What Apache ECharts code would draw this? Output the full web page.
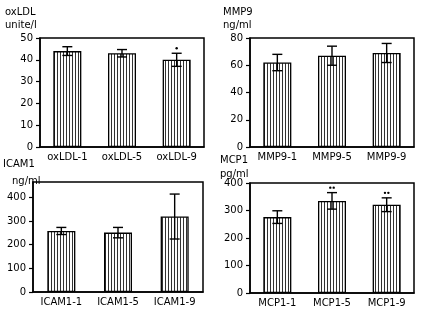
<!DOCTYPE html>
<html><head><meta charset="utf-8">
<script src="https://cdn.jsdelivr.net/npm/echarts@6/dist/echarts.min.js"></script>
<style>html,body{margin:0;padding:0;background:#fff}#c{width:421px;height:312px}</style>
</head><body><div id="c"></div>
<script>
// ---- data ----
const oxldlCats = ['oxLDL-1', 'oxLDL-5', 'oxLDL-9'];
const oxldlMean = [44, 43, 40];
const oxldlErr = [2, 1.7, 3];
const oxldlMark = ['', '', '*'];

const mmp9Cats = ['MMP9-1', 'MMP9-5', 'MMP9-9'];
const mmp9Mean = [62, 67, 69];
const mmp9Err = [6, 7, 7];
const mmp9Mark = ['', '', ''];

const icam1Cats = ['ICAM1-1', 'ICAM1-5', 'ICAM1-9'];
const icam1Mean = [258, 251, 319];
const icam1Err = [15, 22, 95];
const icam1Mark = ['', '', ''];

const mcp1Cats = ['MCP1-1', 'MCP1-5', 'MCP1-9'];
const mcp1Mean = [276, 335, 321];
const mcp1Err = [23, 30, 25];
const mcp1Mark = ['', '**', '**'];

const oxldlTicks = [0, 10, 20, 30, 40, 50];
const mmp9Ticks = [0, 20, 40, 60, 80];
const icam1Ticks = [0, 100, 200, 300, 400];
const mcp1Ticks = [0, 100, 200, 300, 400];

// ---- hatch pattern ----
const pc = document.createElement('canvas');
pc.width = 3; pc.height = 8;
const g = pc.getContext('2d');
g.fillStyle = '#fff'; g.fillRect(0, 0, 3, 8);
g.fillStyle = '#333'; g.fillRect(0, 0, 1, 8);

const FONT = 'DejaVu Sans';
const panels = [
  {cats: oxldlCats, mean: oxldlMean, err: oxldlErr, mark: oxldlMark, ticks: oxldlTicks, max: 50,
   grid: {left: 40, top: 38, width: 164, height: 109}},
  {cats: mmp9Cats, mean: mmp9Mean, err: mmp9Err, mark: mmp9Mark, ticks: mmp9Ticks, max: 80,
   grid: {left: 250, top: 38, width: 164, height: 109}},
  {cats: icam1Cats, mean: icam1Mean, err: icam1Err, mark: icam1Mark, ticks: icam1Ticks, max: 465,
   grid: {left: 33, top: 182, width: 170, height: 110}},
  {cats: mcp1Cats, mean: mcp1Mean, err: mcp1Err, mark: mcp1Mark, ticks: mcp1Ticks, max: 400,
   grid: {left: 250, top: 183, width: 164, height: 110}}
];

const grids = [], xAxes = [], yAxes = [], series = [];
panels.forEach((p, i) => {
  grids.push(Object.assign({show: true, borderColor: '#000', borderWidth: 1.5, backgroundColor: 'transparent'}, p.grid));
  xAxes.push({type: 'category', gridIndex: i, data: p.cats,
    axisLine: {lineStyle: {color: '#000', width: 1.5}}, axisTick: {show: false},
    axisLabel: {color: '#000', fontFamily: FONT, fontSize: 10, margin: 5, interval: 0}});
  yAxes.push({type: 'value', gridIndex: i, min: 0, max: p.max, splitLine: {show: false},
    axisLine: {show: true, lineStyle: {color: '#000', width: 1.5}},
    axisTick: {show: true, length: 4, customValues: p.ticks, lineStyle: {color: '#000', width: 1.2}},
    axisLabel: {color: '#000', fontFamily: FONT, fontSize: 10, margin: 7, customValues: p.ticks}});
  series.push({type: 'bar', xAxisIndex: i, yAxisIndex: i, data: p.mean, barWidth: 28,
    itemStyle: {color: {image: pc, repeat: 'repeat'}, borderColor: '#000', borderWidth: 1.3},
    silent: true, animation: false});
  series.push({type: 'custom', xAxisIndex: i, yAxisIndex: i, animation: false, silent: true, z: 5,
    data: p.mean.map((m, k) => [k, m, p.err[k], p.mark[k]]),
    renderItem: function (params, api) {
      const x = api.value(0), m = api.value(1), e = api.value(2);
      const mk = p.mark[params.dataIndex];
      const top = api.coord([x, m + e]), bot = api.coord([x, m - e]);
      const cx = top[0], hw = 5;
      const st = {stroke: '#000', lineWidth: 1.4};
      const ch = [
        {type: 'line', shape: {x1: cx, y1: top[1], x2: cx, y2: bot[1]}, style: st},
        {type: 'line', shape: {x1: cx - hw, y1: top[1], x2: cx + hw, y2: top[1]}, style: st},
        {type: 'line', shape: {x1: cx - hw, y1: bot[1], x2: cx + hw, y2: bot[1]}, style: st}
      ];
      if (mk) {
        const n = mk.length;
        for (let j = 0; j < n; j++) {
          ch.push({type: 'circle', shape: {cx: cx + (j - (n - 1) / 2) * 3.4, cy: top[1] - 5, r: 1.2},
            style: {fill: '#000'}});
        }
      }
      return {type: 'group', children: ch};
    }});
});

const titleTexts = [
  ['oxLDL', 5, 7], ['unite/l', 5, 20],
  ['MMP9', 223, 7], ['ng/ml', 223, 20],
  ['ICAM1', 3, 159], ['ng/ml', 12, 176],
  ['MCP1', 220, 155], ['pg/ml', 220, 169]
];
const graphic = titleTexts.map(t => ({type: 'text', left: t[1], top: t[2],
  style: {text: t[0], fill: '#000', font: '10px "' + FONT + '"'}}));

const chart = echarts.init(document.getElementById('c'), null, {renderer: 'canvas'});
chart.setOption({animation: false, grid: grids, xAxis: xAxes, yAxis: yAxes, series: series, graphic: graphic});
</script></body></html>
